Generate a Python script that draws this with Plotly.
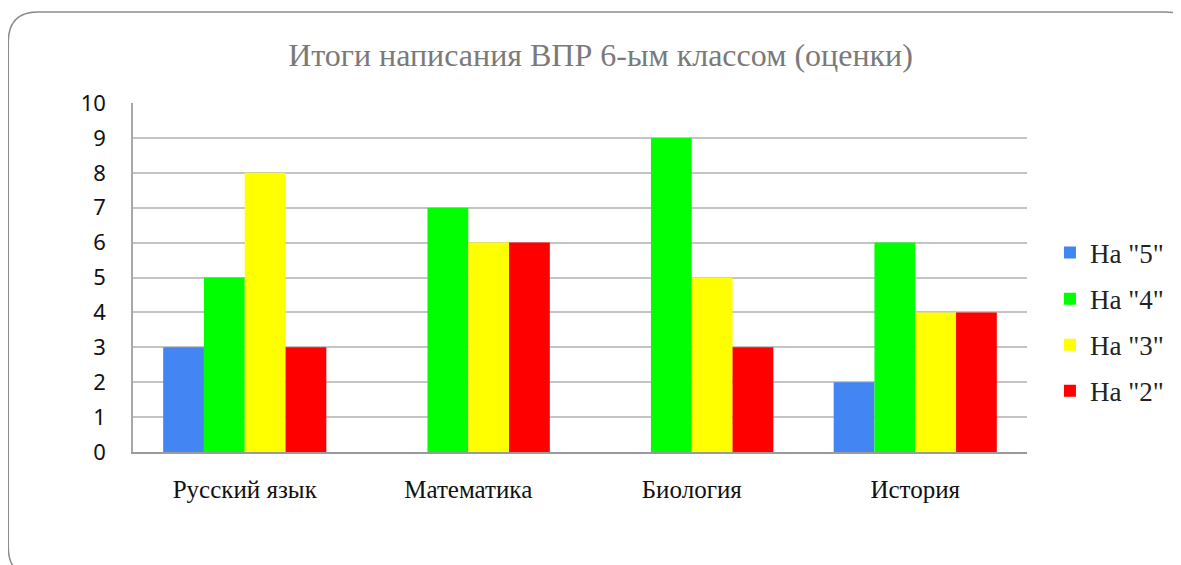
import plotly.graph_objects as go

categories = ["Русский язык", "Математика", "Биология", "История"]
series_names = ['На "5"', 'На "4"', 'На "3"', 'На "2"']
values_5 = [3, 0, 0, 2]
values_4 = [5, 7, 9, 6]
values_3 = [8, 6, 5, 4]
values_2 = [3, 6, 3, 4]
colors = ["#4386F3", "#00FF00", "#FFFF00", "#FF0000"]
y_ticks = list(range(0, 11))

SERIF = "Liberation Serif, Times New Roman, DejaVu Serif, serif"

# page body has an 8px margin in the viewer
OX, OY = 8, 8
W, H = 1181 - OX, 565 - OY
L, R, T, B = 133 - OX, 1029 - OX, 103 - OY, 452 - OY

fig = go.Figure()
for i, (name, vals) in enumerate(zip(series_names, [values_5, values_4, values_3, values_2])):
    fig.add_trace(go.Bar(
        x=categories, y=vals, name=name, legendgroup=f"g{i}",
        marker=dict(color=colors[i], line=dict(width=0)),
        hoverinfo="x+y+name",
    ))

def P(x, y):
    a = (x - OX - L) / (R - L)
    b = (B - (y - OY)) / (B - T)
    return f"{a:.5f},{b:.5f}"

# rounded frame (screen pixel coordinates)
x0, y0, x1, y1, r = 8, 12, 1198, 577, 30
path = (f"M {P(x0 + r, y0)} L {P(x1 - r, y0)} Q {P(x1, y0)} {P(x1, y0 + r)} "
        f"L {P(x1, y1 - r)} Q {P(x1, y1)} {P(x1 - r, y1)} "
        f"L {P(x0 + r, y1)} Q {P(x0, y1)} {P(x0, y1 - r)} "
        f"L {P(x0, y0 + r)} Q {P(x0, y0)} {P(x0 + r, y0)} Z")
fig.add_shape(type="path", path=path, xref="paper", yref="paper",
              line=dict(color="#8c8c8c", width=1.5), layer="below")

lx = (1052 - OX - L) / (R - L)
ly = (B - (322 - OY)) / (B - T)

fig.update_layout(
    width=W, height=H,
    margin=dict(l=L, r=W - R, t=T, b=H - B),
    paper_bgcolor="white", plot_bgcolor="white",
    barmode="group", bargap=0.27, bargroupgap=0,
    title=dict(text="Итоги написания ВПР 6-ым классом (оценки)",
               font=dict(family=SERIF, size=32, color="#7a7a7a"),
               x=(600.5 - OX) / W, xanchor="center", xref="container",
               y=1 - (55 - OY) / H, yanchor="middle", yref="container"),
    legend=dict(x=lx, y=ly, xanchor="left", yanchor="middle",
                font=dict(family=SERIF, size=27, color="#222222"),
                tracegroupgap=8, bgcolor="rgba(0,0,0,0)"),
    showlegend=True,
)
fig.update_xaxes(
    showgrid=False, showline=True, linecolor="#9a9a9a", linewidth=2,
    ticks="", tickfont=dict(family=SERIF, size=25, color="#111111"),
    ticklabelstandoff=14,
)
fig.update_yaxes(
    range=[0, 10], tickvals=y_ticks, showgrid=True, gridcolor="#c4c4c4", gridwidth=1.6,
    showline=True, linecolor="#a8a8a8", linewidth=1.5, zeroline=False,
    ticks="", tickfont=dict(family="Noto Sans", size=22, color="#111111"),
    ticklabelstandoff=21,
)

fig.write_html("out.html")
